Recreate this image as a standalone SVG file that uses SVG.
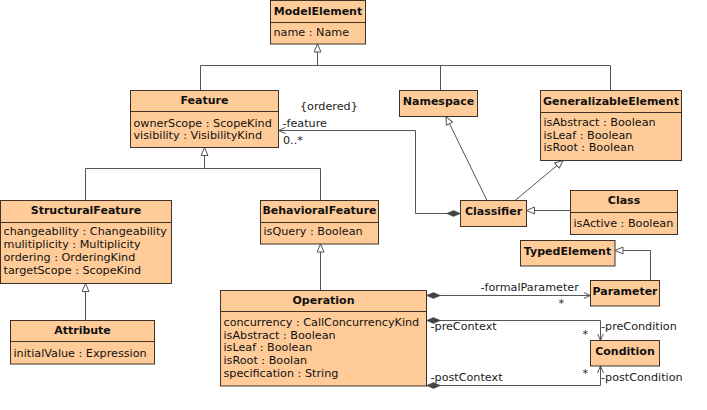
<svg xmlns="http://www.w3.org/2000/svg" width="707" height="410" viewBox="0 0 707 410">
<style>
  .box { fill: #FFCC99; stroke: #3f3226; stroke-width: 1; }
  .div { stroke: #3f3226; stroke-width: 1; }
  .t { font-family: "DejaVu Sans", "Liberation Sans", sans-serif; font-size: 11px; font-weight: bold; fill: #111; text-anchor: middle; }
  .a { font-family: "DejaVu Sans", "Liberation Sans", sans-serif; font-size: 11.2px; fill: #111; }
  .lbl { font-family: "DejaVu Sans", "Liberation Sans", sans-serif; font-size: 11.2px; fill: #222; }
  .ln { fill: none; stroke: #555; stroke-width: 1; }
  .gen { marker-end: url(#tri); }
  .asc { marker-start: url(#dia); marker-end: url(#arr); }
</style>
<defs>
  <marker id="tri" markerUnits="userSpaceOnUse" markerWidth="10" markerHeight="10" viewBox="0 0 10 10" refX="8.5" refY="4" orient="auto">
    <path d="M0.5,0.5 L8.5,4 L0.5,7.5 z" fill="#fff" stroke="#555" stroke-width="1"/>
  </marker>
  <marker id="arr" markerUnits="userSpaceOnUse" markerWidth="10" markerHeight="10" viewBox="0 0 10 10" refX="7" refY="3.5" orient="auto">
    <path d="M0,0.5 L7,3.5 L0,6.5" fill="none" stroke="#555" stroke-width="1"/>
  </marker>
  <marker id="dia" markerUnits="userSpaceOnUse" markerWidth="16" markerHeight="8" viewBox="0 0 16 8" refX="0" refY="4" orient="auto">
    <path d="M0,4 L7,1 L14,4 L7,7 z" fill="#444" stroke="#444" stroke-width="0.5"/>
  </marker>
</defs>

<g id="connectors">
  <!-- generalization to ModelElement -->
  <polyline class="ln" points="200.5,90.5 200.5,65.5 610.5,65.5 610.5,90.5"/>
  <line class="ln" x1="440.5" y1="65.5" x2="440.5" y2="90.5"/>
  <line class="ln gen" x1="317.5" y1="65.5" x2="317.5" y2="44"/>
  <!-- generalization to Feature -->
  <polyline class="ln" points="85.5,200.5 85.5,168.5 320.5,168.5 320.5,200.5"/>
  <line class="ln gen" x1="204.5" y1="168.5" x2="204.5" y2="147.5"/>
  <!-- Attribute -> StructuralFeature -->
  <line class="ln gen" x1="85.5" y1="320.5" x2="85.5" y2="283.5"/>
  <!-- Operation -> BehavioralFeature -->
  <line class="ln gen" x1="320.5" y1="290.5" x2="320.5" y2="244"/>
  <!-- Classifier -> Namespace -->
  <line class="ln gen" x1="487" y1="200.5" x2="446" y2="116.5"/>
  <!-- Classifier -> GeneralizableElement -->
  <line class="ln gen" x1="515" y1="200.5" x2="563" y2="160.5"/>
  <!-- Class -> Classifier -->
  <line class="ln gen" x1="570.5" y1="210.5" x2="526.5" y2="210.5"/>
  <!-- Parameter -> TypedElement -->
  <polyline class="ln gen" points="650.5,280.5 650.5,250.5 615,250.5"/>
  <!-- feature association -->
  <polyline class="ln asc" points="460.5,213.5 415.5,213.5 415.5,130.5 278.5,130.5"/>
  <text class="lbl" x="300" y="110">{ordered}</text>
  <text class="lbl" x="282.5" y="127">-feature</text>
  <text class="lbl" x="283" y="143.5">0..*</text>
  <!-- formalParameter -->
  <polyline class="ln asc" points="426.5,295.5 590.5,295.5"/>
  <text class="lbl" x="480.5" y="291">-formalParameter</text>
  <text class="lbl" x="558.5" y="307">*</text>
  <!-- preCondition -->
  <polyline class="ln asc" points="426.5,320.5 600.5,320.5 600.5,340.5"/>
  <text class="lbl" x="430.5" y="330">-preContext</text>
  <text class="lbl" x="582.5" y="338">*</text>
  <text class="lbl" x="601" y="330">-preCondition</text>
  <!-- postCondition -->
  <polyline class="ln asc" points="426.5,385.5 600.5,385.5 600.5,366"/>
  <text class="lbl" x="430.5" y="380.5">-postContext</text>
  <text class="lbl" x="582.5" y="376.5">*</text>
  <text class="lbl" x="601" y="380.5">-postCondition</text>
</g>

<g id="ModelElement">
  <rect class="box" x="270.5" y="0.5" width="95" height="43.5"/>
  <line class="div" x1="270.5" y1="22.5" x2="365.5" y2="22.5"/>
  <text class="t" x="318" y="14.5">ModelElement</text>
  <text class="a" x="273.5" y="36">name : Name</text>
</g>

<g id="Feature">
  <rect class="box" x="130.5" y="90.5" width="148" height="57"/>
  <line class="div" x1="130.5" y1="111.5" x2="278.5" y2="111.5"/>
  <text class="t" x="204.5" y="104">Feature</text>
  <text class="a" x="133.5" y="126.5">ownerScope : ScopeKind</text>
  <text class="a" x="133.5" y="139">visibility : VisibilityKind</text>
</g>

<g id="Namespace">
  <rect class="box" x="399.5" y="90.5" width="78" height="26"/>
  <text class="t" x="438.5" y="104.5">Namespace</text>
</g>

<g id="GeneralizableElement">
  <rect class="box" x="540.5" y="90.5" width="141" height="70"/>
  <line class="div" x1="540.5" y1="112.5" x2="681.5" y2="112.5"/>
  <text class="t" x="611" y="104.5">GeneralizableElement</text>
  <text class="a" x="543.5" y="126">isAbstract : Boolean</text>
  <text class="a" x="543.5" y="138.5">isLeaf : Boolean</text>
  <text class="a" x="543.5" y="151">isRoot : Boolean</text>
</g>

<g id="Classifier">
  <rect class="box" x="460.5" y="200.5" width="66" height="26"/>
  <text class="t" x="493.5" y="214.5">Classifier</text>
</g>

<g id="Class">
  <rect class="box" x="570.5" y="190.5" width="107" height="44"/>
  <line class="div" x1="570.5" y1="212.5" x2="677.5" y2="212.5"/>
  <text class="t" x="624" y="204">Class</text>
  <text class="a" x="573.5" y="226.5">isActive : Boolean</text>
</g>

<g id="StructuralFeature">
  <rect class="box" x="0.5" y="200.5" width="171" height="83"/>
  <line class="div" x1="0.5" y1="222.5" x2="171.5" y2="222.5"/>
  <text class="t" x="86" y="214">StructuralFeature</text>
  <text class="a" x="3.5" y="235">changeability : Changeability</text>
  <text class="a" x="3.5" y="247.5">mulitiplicity : Multiplicity</text>
  <text class="a" x="3.5" y="260.5">ordering : OrderingKind</text>
  <text class="a" x="3.5" y="273.5">targetScope : ScopeKind</text>
</g>

<g id="BehavioralFeature">
  <rect class="box" x="260.5" y="200.5" width="118" height="43.5"/>
  <line class="div" x1="260.5" y1="222.5" x2="378.5" y2="222.5"/>
  <text class="t" x="319.5" y="214">BehavioralFeature</text>
  <text class="a" x="263.5" y="235">isQuery : Boolean</text>
</g>

<g id="Attribute">
  <rect class="box" x="10.5" y="320.5" width="144" height="43.5"/>
  <line class="div" x1="10.5" y1="341.5" x2="154.5" y2="341.5"/>
  <text class="t" x="82.5" y="333.5">Attribute</text>
  <text class="a" x="13.5" y="356.5">initialValue : Expression</text>
</g>

<g id="Operation">
  <rect class="box" x="220.5" y="290.5" width="206" height="95.5"/>
  <line class="div" x1="220.5" y1="311.5" x2="426.5" y2="311.5"/>
  <text class="t" x="323.5" y="304">Operation</text>
  <text class="a" x="223.5" y="326">concurrency : CallConcurrencyKind</text>
  <text class="a" x="223.5" y="338.5">isAbstract : Boolean</text>
  <text class="a" x="223.5" y="351">isLeaf : Boolean</text>
  <text class="a" x="223.5" y="364">isRoot : Boolan</text>
  <text class="a" x="223.5" y="376.5">specification : String</text>
</g>

<g id="TypedElement">
  <rect class="box" x="520.5" y="240.5" width="94.5" height="25.5"/>
  <text class="t" x="567.5" y="254.5">TypedElement</text>
</g>

<g id="Parameter">
  <rect class="box" x="590.5" y="280.5" width="69" height="25.5"/>
  <text class="t" x="625" y="294.5">Parameter</text>
</g>

<g id="Condition">
  <rect class="box" x="590.5" y="340.5" width="69" height="25.5"/>
  <text class="t" x="625" y="354.5">Condition</text>
</g>
</svg>
